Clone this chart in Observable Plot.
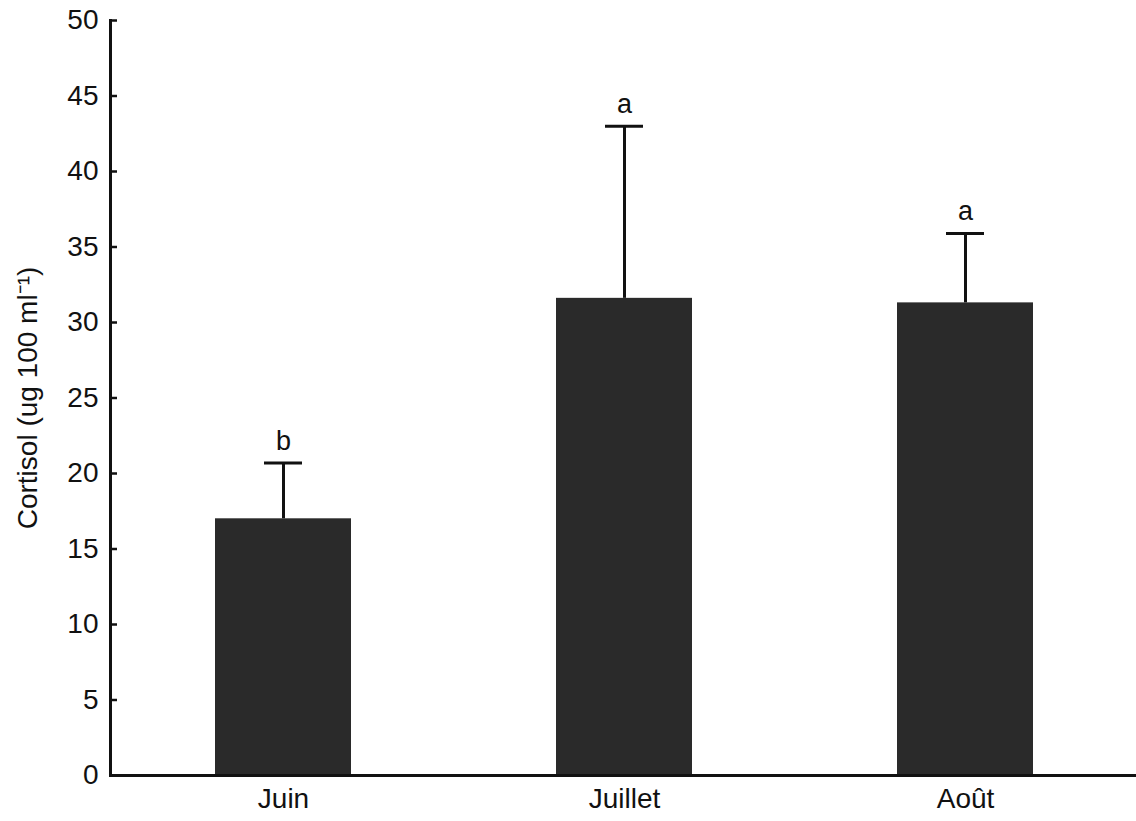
<!DOCTYPE html>
<html>
<head>
<meta charset="utf-8">
<script src="https://cdn.jsdelivr.net/npm/d3@7"></script>
<script src="https://cdn.jsdelivr.net/npm/@observablehq/plot@0.6"></script>
<style>
  html, body { margin: 0; padding: 0; background: #fff; }
  #chart svg { display: block; }
</style>
</head>
<body>
<div id="chart"></div>
<script>
const months = ["Juin", "Juillet", "Août"];
const means = [17.0, 31.6, 31.3];
const upper = [20.7, 43.0, 35.9];
const letters = ["b", "a", "a"];
const yTicks = [0, 5, 10, 15, 20, 25, 30, 35, 40, 45, 50];

const data = months.map((m, i) => ({month: m, mean: means[i], err: upper[i], letter: letters[i]}));
const font = "Liberation Sans, Arial, Helvetica, sans-serif";

const chart = Plot.plot({
  width: 1136,
  height: 821,
  marginLeft: 113,
  marginRight: 0,
  marginTop: 20,
  marginBottom: 46,
  style: {fontFamily: font, fontSize: "28px", color: "#111", background: "#fff"},
  x: {domain: months, paddingInner: 0.6, paddingOuter: 0.3, label: null},
  y: {domain: [0, 50], label: null},
  marks: [
    Plot.barY(data, {x: "month", y: "mean", fill: "#2a2a2a"}),
    Plot.ruleX(data, {x: "month", y1: "mean", y2: "err", stroke: "#111", strokeWidth: 3}),
    Plot.tickY(data, {x: "month", y: "err", insetLeft: 49, insetRight: 49, stroke: "#111", strokeWidth: 3}),
    Plot.text(data, {x: "month", y: "err", text: "letter", dy: -13, lineAnchor: "bottom", fontSize: 27, fill: "#111"}),
    Plot.axisY(yTicks, {anchor: "left", tickSize: 0, tickPadding: 15, label: null, fontSize: 28}),
    Plot.axisY(yTicks, {anchor: "left", tickSize: -7, text: null, label: null, strokeWidth: 2.5, dx: -3}),
    Plot.axisX({tickSize: 0, tickPadding: 13, label: null, fontSize: 28}),
    Plot.frame({anchor: "left", dx: -3, stroke: "#111", strokeWidth: 3}),
    Plot.ruleY([0], {stroke: "#111", strokeWidth: 3, insetLeft: -4}),
    Plot.text(["Cortisol (ug 100 ml⁻¹)"], {frameAnchor: "left", dx: -85, rotate: -90, textAnchor: "middle", fontSize: 28, fill: "#111", text: d => d})
  ]
});
document.getElementById("chart").appendChild(chart);
</script>
</body>
</html>
